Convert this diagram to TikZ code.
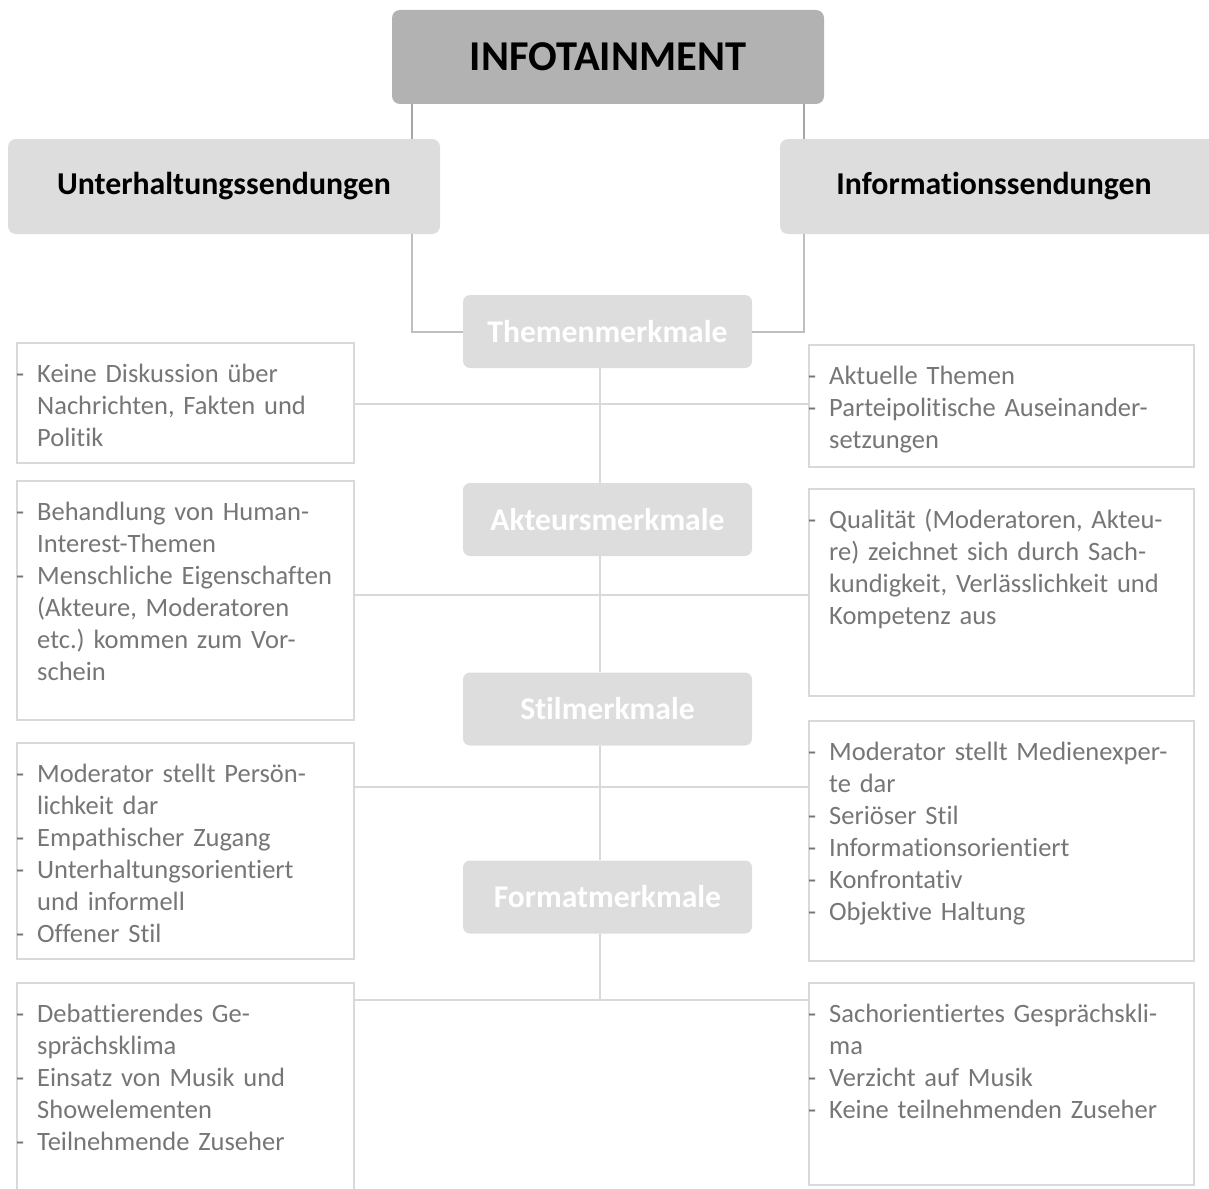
\documentclass[tikz,border=0pt]{standalone}
\usepackage{fontspec}
\setmainfont{Carlito}[Ligatures=CommonOff]
\frenchspacing
\definecolor{topfill}{RGB}{178,178,178}
\definecolor{midfill}{RGB}{221,221,221}
\definecolor{txtgray}{RGB}{118,118,118}
\definecolor{darkconn}{RGB}{166,166,166}
\definecolor{midconn}{RGB}{191,191,191}
\definecolor{lightconn}{RGB}{217,217,217}
\newcommand\itm[1]{\par\noindent\strut\makebox[21pt][l]{-}#1}
\newcommand\cnt[1]{\par\noindent\strut\hspace*{21pt}#1}
\begin{document}
\begin{tikzpicture}[x=1pt,y=-1pt,
  topbox/.style={fill=topfill, rounded corners=8pt, inner sep=0pt, minimum width=432pt, minimum height=94pt,
    font=\bfseries\fontsize{42.5}{50}\selectfont, text=black},
  catbox/.style={fill=midfill, rounded corners=8pt, inner sep=0pt, minimum height=95pt,
    font=\bfseries\fontsize{31.8}{38}\selectfont, text=black},
  featbox/.style={fill=midfill, rounded corners=7pt, inner sep=0pt, minimum width=289pt, minimum height=73pt,
    font=\bfseries\fontsize{31.6}{37}\selectfont, text=white},
  listbox/.style={draw=lightconn, line width=2pt, inner sep=0pt},
  listtext/.style={anchor=north west, inner sep=0pt, text width=420pt, text=txtgray,
    font=\fontsize{26.5}{32}\selectfont\frenchspacing},
  conn/.style={draw=lightconn, line width=2pt},
  connmid/.style={draw=midconn, line width=2pt},
  conndark/.style={draw=darkconn, line width=2pt}]
\useasboundingbox (0,0) rectangle (1209,1188);
\clip (0,0) rectangle (1209,1188);

% top level
\node[topbox] (top) at (608,57) {INFOTAINMENT};
\node[catbox, minimum width=432pt] (U) at (224,186.5) {Unterhaltungssendungen};
\node[catbox, minimum width=440pt] (I) at (1000,186.5) {\hspace*{-12pt}Informationssendungen};

% feature boxes
\node[featbox] (T) at (607.5,331.5) {Themenmerkmale};
\node[featbox] (A) at (607.5,519.5) {Akteursmerkmale};
\node[featbox] (S) at (607.5,709) {Stilmerkmale};
\node[featbox] (F) at (607.5,897) {Formatmerkmale};

% list boxes (left)
\node[listbox, minimum width=337pt, minimum height=120pt] (L1) at (185.5,403) {};
\node[listbox, minimum width=337pt, minimum height=239pt] (L2) at (185.5,600.5) {};
\node[listbox, minimum width=337pt, minimum height=216pt] (L3) at (185.5,851) {};
\node[listbox, minimum width=337pt, minimum height=230pt] (L4) at (185.5,1098) {};
% list boxes (right)
\node[listbox, minimum width=385pt, minimum height=122pt] (R1) at (1001.5,406) {};
\node[listbox, minimum width=385pt, minimum height=207pt] (R2) at (1001.5,592.5) {};
\node[listbox, minimum width=385pt, minimum height=240pt] (R3) at (1001.5,841) {};
\node[listbox, minimum width=385pt, minimum height=202pt] (R4) at (1001.5,1084) {};

% connectors
\draw[conndark] (top.south -| 412,0) -- (U.north -| 412,0);
\draw[conndark] (top.south -| 804,0) -- (I.north -| 804,0);
\draw[connmid] (U.south -| 412,0) |- (T.west);
\draw[connmid] (I.south -| 804,0) |- (T.east);
\draw[conn] (T.south -| 600,0) -- (A.north -| 600,0);
\draw[conn] (A.south -| 600,0) -- (S.north -| 600,0);
\draw[conn] (S.south -| 600,0) -- (F.north -| 600,0);
\draw[conn] (F.south -| 600,0) -- (600,1000);
\draw[conn] (L1.east |- 0,404) -- (R1.west |- 0,404);
\draw[conn] (L2.east |- 0,595) -- (R2.west |- 0,595);
\draw[conn] (L3.east |- 0,787) -- (R3.west |- 0,787);
\draw[conn] (L4.east |- 0,1000) -- (R4.west |- 0,1000);

% list texts
\node[listtext] (L1t) at (16,350.6) {\itm{Keine Diskussion über}\cnt{Nachrichten, Fakten und}\cnt{Politik}};
\node[listtext] (L2t) at (16,488.6) {\itm{Behandlung von Human-}\cnt{Interest-Themen}\itm{Menschliche Eigenschaften}\cnt{(Akteure, Moderatoren}\cnt{etc.) kommen zum Vor-}\cnt{schein}};
\node[listtext] (L3t) at (16,750.6) {\itm{Moderator stellt Persön-}\cnt{lichkeit dar}\itm{Empathischer Zugang}\itm{Unterhaltungsorientiert}\cnt{und informell}\itm{Offener Stil}};
\node[listtext] (L4t) at (16,990.6) {\itm{Debattierendes Ge-}\cnt{sprächsklima}\itm{Einsatz von Musik und}\cnt{Showelementen}\itm{Teilnehmende Zuseher}};

\node[listtext] (R1t) at (808,352.6) {\itm{Aktuelle Themen}\itm{Parteipolitische Auseinander-}\cnt{setzungen}};
\node[listtext] (R2t) at (808,496.6) {\itm{Qualität (Moderatoren, Akteu-}\cnt{re) zeichnet sich durch Sach-}\cnt{kundigkeit, Verlässlichkeit und}\cnt{Kompetenz aus}};
\node[listtext] (R3t) at (808,728.6) {\itm{Moderator stellt Medienexper-}\cnt{te dar}\itm{Seriöser Stil}\itm{Informationsorientiert}\itm{Konfrontativ}\itm{Objektive Haltung}};
\node[listtext] (R4t) at (808,990.6) {\itm{Sachorientiertes Gesprächskli-}\cnt{ma}\itm{Verzicht auf Musik}\itm{Keine teilnehmenden Zuseher}};
\end{tikzpicture}
\end{document}
